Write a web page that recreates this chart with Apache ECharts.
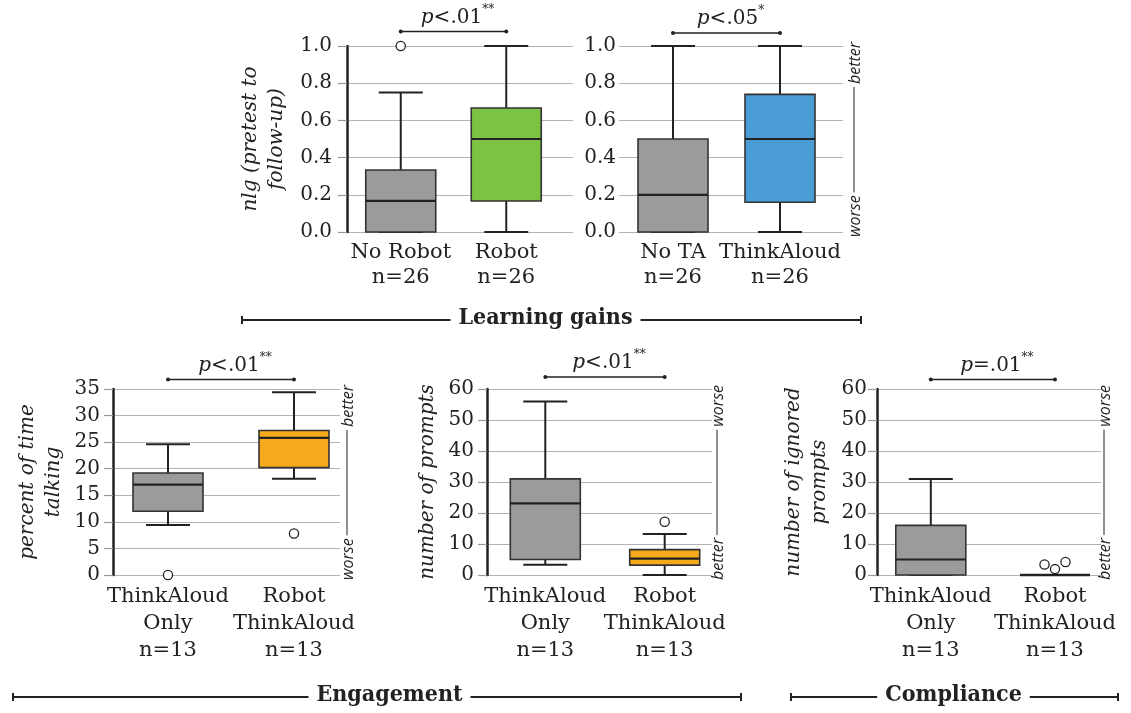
<!DOCTYPE html>
<html><head><meta charset="utf-8">
<script src="https://cdn.jsdelivr.net/npm/echarts@6/dist/echarts.min.js"></script>
<style>html,body{margin:0;padding:0;background:#fff}#c{width:1131px;height:713px}</style>
</head><body><div id="c"></div>
<script>
// ---------------- data ----------------
// box values: [min, Q1, median, Q3, max]
const lgRobotCats = ['No Robot\nn=26', 'Robot\nn=26'];
const lgRobotBox = [[0, 0, 0.167, 0.333, 0.75], [0, 0.167, 0.5, 0.667, 1.0]];
const lgRobotOut = [[1.0], []];

const lgTACats = ['No TA\nn=26', 'ThinkAloud\nn=26'];
const lgTABox = [[0, 0, 0.2, 0.5, 1.0], [0, 0.16, 0.5, 0.74, 1.0]];
const lgTAOut = [[], []];

const engCats = ['ThinkAloud\nOnly\nn=13', 'Robot\nThinkAloud\nn=13'];
const talkBox = [[9.4, 12.0, 17.0, 19.2, 24.6], [18.1, 20.2, 25.8, 27.2, 34.4]];
const talkOut = [[0], [7.8]];
const promptBox = [[3.3, 5.0, 23.1, 31.0, 56.0], [0, 3.2, 5.3, 8.2, 13.2]];
const promptOut = [[], [17.2]];
const ignoredBox = [[0, 0, 5.0, 16.0, 31.0], [0, 0, 0, 0, 0]];
const ignoredOut = [[], [3.4, 1.9, 4.2]];

const lgTicks = [0, 0.2, 0.4, 0.6, 0.8, 1.0];
const talkTicks = [0, 5, 10, 15, 20, 25, 30, 35];
const countTicks = [0, 10, 20, 30, 40, 50, 60];

const pLabels = [['p', '<.01', '**'], ['p', '<.05', '*'], ['p', '<.01', '**'], ['p', '<.01', '**'], ['p', '=.01', '**']];
const groupLabels = ['Learning gains', 'Engagement', 'Compliance'];
const yNames = ['nlg (pretest to\nfollow-up)', '', 'percent of time\ntalking', 'number of prompts', 'number of ignored\nprompts'];
const annLabels = [null, ['better', 'worse'], ['better', 'worse'], ['worse', 'better'], ['worse', 'better']];

// ---------------- layout / style ----------------
const SERIF = "'DejaVu Serif', serif";
const INK = '#222';
const GRAY = '#9b9b9b';
const panels = [
  {box: lgRobotBox, out: lgRobotOut, cats: lgRobotCats, ticks: lgTicks, dec: 1, colors: [GRAY, '#7cc243'],
   split: {left: 347, top: 46, width: 226, height: 186}, bg: {left: 348, width: 211},
   axisLine: true, lm: 15, nameGap: 57, catLH: 25, pDy: 14.5, annX: 0},
  {box: lgTABox, out: lgTAOut, cats: lgTACats, ticks: lgTicks, dec: 1, colors: [GRAY, '#4b9cd5'],
   split: {left: 619, top: 46, width: 224, height: 186}, bg: {left: 619.5, width: 214},
   axisLine: false, lm: 3, nameGap: 50, catLH: 25, pDy: 13, annX: 855},
  {box: talkBox, out: talkOut, cats: engCats, ticks: talkTicks, dec: 0, colors: [GRAY, '#f6a91c'],
   split: {left: 113, top: 389, width: 227, height: 186}, bg: {left: 105, width: 252},
   axisLine: true, lm: 13, nameGap: 46, catLH: 27, pDy: 9.5, annX: 348},
  {box: promptBox, out: promptOut, cats: engCats, ticks: countTicks, dec: 0, colors: [GRAY, '#f6a91c'],
   split: {left: 487, top: 389, width: 225, height: 186}, bg: {left: 485.6, width: 238.8},
   axisLine: true, lm: 13, nameGap: 46, catLH: 27, pDy: 12, annX: 718},
  {box: ignoredBox, out: ignoredOut, cats: engCats, ticks: countTicks, dec: 0, colors: [GRAY, GRAY],
   split: {left: 877, top: 389, width: 224, height: 186}, bg: {left: 868.7, width: 248.4},
   axisLine: true, lm: 10, nameGap: 44, catLH: 27, pDy: 9.5, annX: 1105}
];
const BOXW = 70, CAPW = 44;

function boxRender(colors) {
  return function (params, api) {
    const ci = api.value(0);
    const ys = [1, 2, 3, 4, 5].map(k => api.coord([ci, api.value(k)])[1]);
    const cx = api.coord([ci, api.value(1)])[0];
    const [yMin, yQ1, yMed, yQ3, yMax] = ys;
    const h = BOXW / 2, c = CAPW / 2;
    const ln = (x1, y1, x2, y2, w) => ({type: 'line', shape: {x1, y1, x2, y2}, style: {stroke: INK, lineWidth: w}});
    return {type: 'group', children: [
      ln(cx, yQ3, cx, yMax, 2), ln(cx, yQ1, cx, yMin, 2),
      ln(cx - c, yMax, cx + c, yMax, 2), ln(cx - c, yMin, cx + c, yMin, 2),
      {type: 'rect', shape: {x: cx - h, y: yQ3, width: BOXW, height: Math.max(yQ1 - yQ3, 0)},
       style: {fill: colors[ci], stroke: '#333', lineWidth: yQ1 - yQ3 < 1 ? 2.5 : 1.6}},
      ln(cx - h, yMed, cx + h, yMed, 2.2)
    ]};
  };
}
function outRender(params, api) {
  const ci = api.value(0), k = api.value(2), n = api.value(3);
  const p = api.coord([ci, api.value(1)]);
  const dx = n > 1 ? (k - (n - 1) / 2) * 10.5 : 0;
  return {type: 'circle', shape: {cx: p[0] + dx, cy: p[1], r: 4.6}, style: {fill: '#fff', stroke: INK, lineWidth: 1.3}};
}

const grid = [], xAxis = [], yAxis = [], series = [];
panels.forEach((p, i) => {
  grid.push(Object.assign({}, p.split));
  xAxis.push({gridIndex: i, type: 'value', show: false, min: 0, max: 1});
  const mn = p.ticks[0], mx = p.ticks[p.ticks.length - 1], iv = p.ticks[1] - p.ticks[0];
  yAxis.push({gridIndex: i, type: 'value', min: mn, max: mx, interval: iv,
    axisLine: {show: p.axisLine, lineStyle: {color: INK, width: 2.5}},
    axisTick: {show: p.axisLine, length: 9, lineStyle: {color: '#999', width: 1.2}},
    splitLine: {show: true, lineStyle: {color: '#b3b3b3', width: 1.2}},
    axisLabel: {margin: p.lm, fontFamily: SERIF, fontSize: 20, color: INK,
      formatter: v => v.toFixed(p.dec)},
    name: yNames[i], nameLocation: 'middle', nameRotate: 90, nameGap: p.nameGap,
    nameTextStyle: {fontFamily: SERIF, fontStyle: 'italic', fontSize: 20, lineHeight: 26, color: INK}
  });
});
panels.forEach((p, i) => {
  const gi = 5 + i;
  grid.push({left: p.bg.left, width: p.bg.width, top: p.split.top, height: p.split.height});
  xAxis.push({gridIndex: gi, type: 'category', data: p.cats,
    axisLine: {show: false}, axisTick: {show: false}, splitLine: {show: false},
    axisLabel: {margin: 8, fontFamily: SERIF, fontSize: 21, lineHeight: p.catLH, color: INK, interval: 0}});
  const mn = p.ticks[0], mx = p.ticks[p.ticks.length - 1];
  yAxis.push({gridIndex: gi, type: 'value', min: mn, max: mx, show: false});
  series.push({type: 'custom', xAxisIndex: gi, yAxisIndex: gi, renderItem: boxRender(p.colors), z: 3,
    data: p.box.map((b, ci) => [ci].concat(b))});
  const od = [];
  p.out.forEach((arr, ci) => arr.forEach((v, k) => od.push([ci, v, k, arr.length])));
  series.push({type: 'custom', xAxisIndex: gi, yAxisIndex: gi, renderItem: outRender, z: 4, data: od});
});

const chart = echarts.init(document.getElementById('c'));
chart.setOption({animation: false, grid, xAxis, yAxis, series});

// ---------------- annotations ----------------
const cv = document.createElement('canvas').getContext('2d');
function tw(font, s) { cv.font = font; return cv.measureText(s).width; }
const ANNFONT = "italic 16px 'Open Sans', sans-serif";
const GRPFONT = "bold 23px 'DejaVu Serif Condensed', 'DejaVu Serif', serif";
const graphic = [];
panels.forEach((p, i) => {
  const gi = 5 + i;
  const x0 = chart.convertToPixel({xAxisIndex: gi}, 0);
  const x1 = chart.convertToPixel({xAxisIndex: gi}, 1);
  const topY = chart.convertToPixel({yAxisIndex: i}, p.ticks[p.ticks.length - 1]);
  const botY = chart.convertToPixel({yAxisIndex: i}, p.ticks[0]);
  const by = topY - p.pDy;
  graphic.push({type: 'line', shape: {x1: x0, y1: by, x2: x1, y2: by}, style: {stroke: INK, lineWidth: 1.5}});
  graphic.push({type: 'circle', shape: {cx: x0, cy: by, r: 2}, style: {fill: INK}});
  graphic.push({type: 'circle', shape: {cx: x1, cy: by, r: 2}, style: {fill: INK}});
  const pl = pLabels[i];
  graphic.push({type: 'text', x: (x0 + x1) / 2 + 4, y: by - 4, style: {
    text: '{i|' + pl[0] + '}{n|' + pl[1] + '}{s|' + pl[2] + '}',
    align: 'center', verticalAlign: 'bottom',
    rich: {
      i: {fontFamily: SERIF, fontStyle: 'italic', fontSize: 20, fill: INK, lineHeight: 24, verticalAlign: 'bottom'},
      n: {fontFamily: SERIF, fontSize: 20, fill: INK, lineHeight: 24, verticalAlign: 'bottom'},
      s: {fontFamily: SERIF, fontSize: 12, fill: INK, lineHeight: 12, verticalAlign: 'top'}
    }}});
  const al = annLabels[i];
  if (al) {
    const ax = p.annX;
    const t0 = topY - 4, b0 = botY + 5;
    const w0 = tw(ANNFONT, al[0]), w1 = tw(ANNFONT, al[1]);
    graphic.push({type: 'text', x: ax, y: t0, rotation: Math.PI / 2, style: {text: al[0], align: 'right', verticalAlign: 'middle',
      font: ANNFONT, fill: INK}});
    graphic.push({type: 'text', x: ax, y: b0, rotation: Math.PI / 2, style: {text: al[1], align: 'left', verticalAlign: 'middle',
      font: ANNFONT, fill: INK}});
    graphic.push({type: 'line', shape: {x1: ax - 1, y1: t0 + w0 + 3, x2: ax - 1, y2: b0 - w1 - 3}, style: {stroke: INK, lineWidth: 1}});
  }
});
const groups = [
  {x1: 242, x2: 861, cx: 545.5, y: 320},
  {x1: 13, x2: 741, cx: 389.5, y: 697},
  {x1: 791, x2: 1118, cx: 953.5, y: 697}
];
groups.forEach((g, i) => {
  const w = tw(GRPFONT, groupLabels[i]);
  const st = {stroke: INK, lineWidth: 2};
  graphic.push({type: 'line', shape: {x1: g.x1, y1: g.y, x2: g.cx - w / 2 - 8, y2: g.y}, style: st});
  graphic.push({type: 'line', shape: {x1: g.cx + w / 2 + 8, y1: g.y, x2: g.x2, y2: g.y}, style: st});
  graphic.push({type: 'line', shape: {x1: g.x1, y1: g.y - 4, x2: g.x1, y2: g.y + 4}, style: st});
  graphic.push({type: 'line', shape: {x1: g.x2, y1: g.y - 4, x2: g.x2, y2: g.y + 4}, style: st});
  graphic.push({type: 'text', x: g.cx, y: g.y - 2, style: {text: groupLabels[i], align: 'center', verticalAlign: 'middle',
    font: GRPFONT, fill: INK}});
});
chart.setOption({graphic});
</script></body></html>
